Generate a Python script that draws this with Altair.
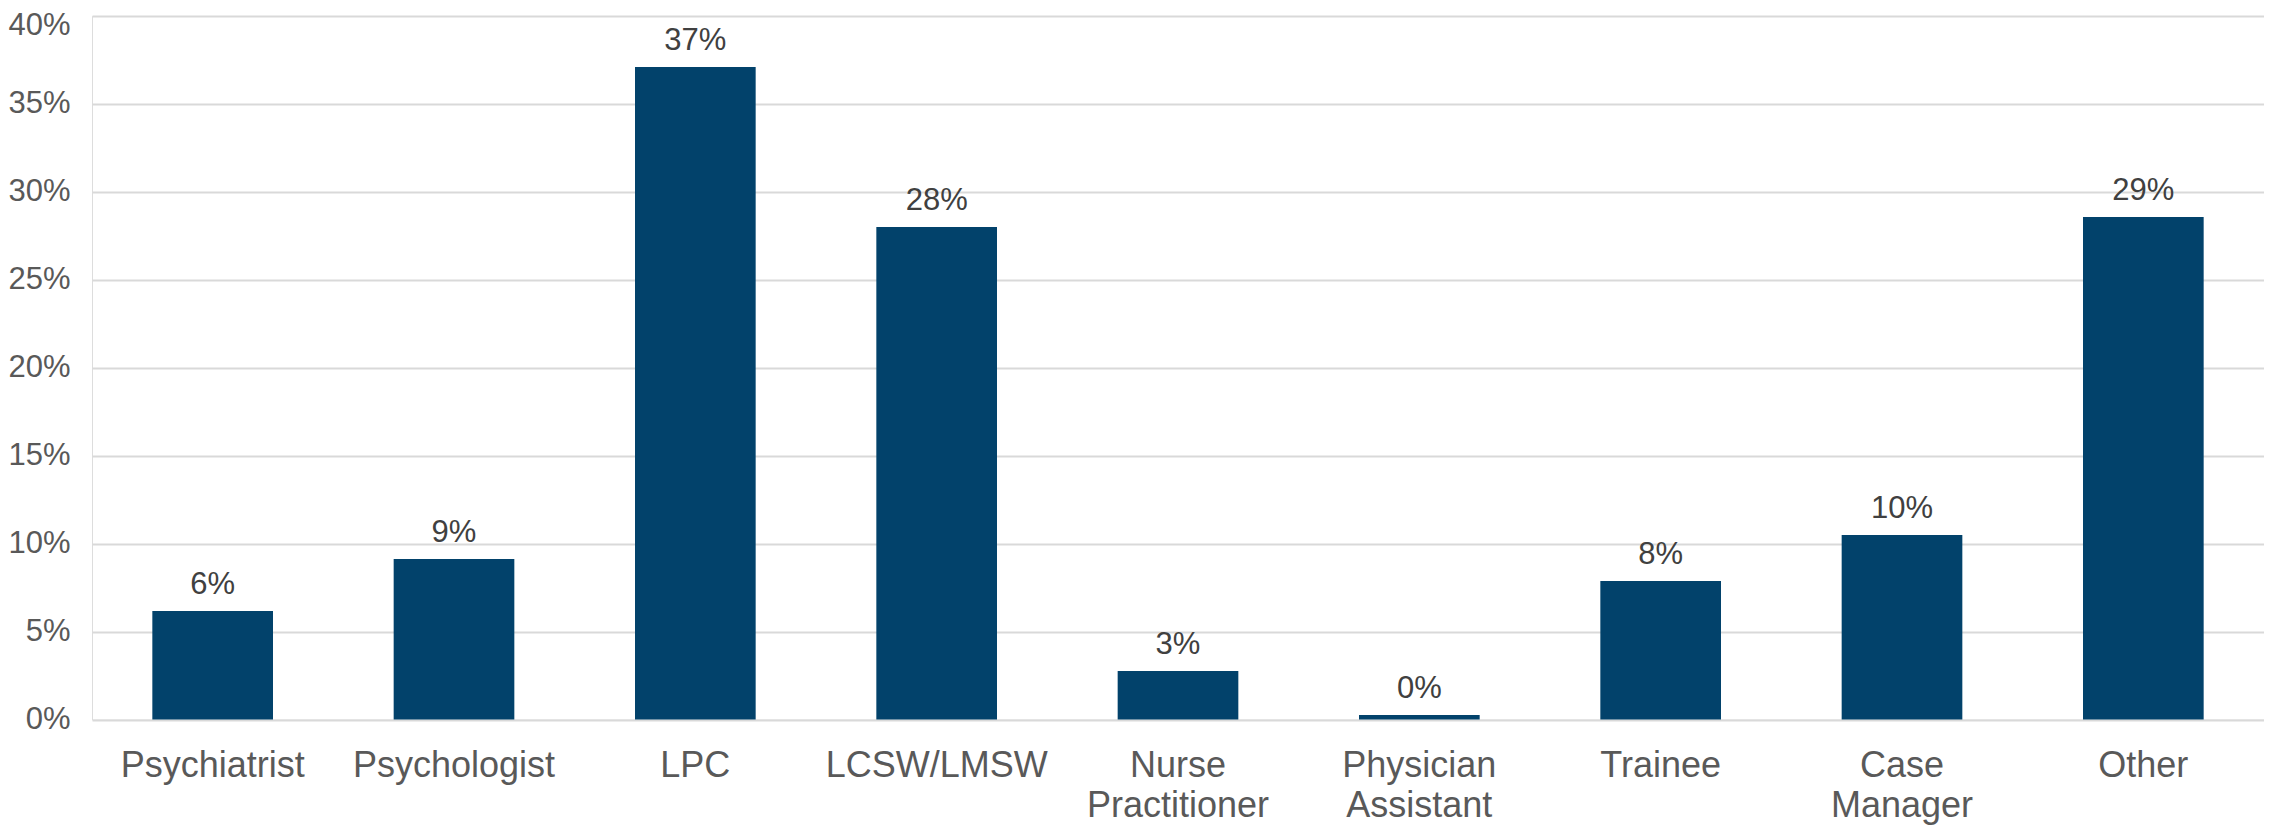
import altair as alt
import pandas as pd

categories = ["Psychiatrist", "Psychologist", "LPC", "LCSW/LMSW", "Nurse|Practitioner",
              "Physician|Assistant", "Trainee", "Case|Manager", "Other"]
values = [6.17, 9.12, 37.1, 28.0, 2.76, 0.26, 7.87, 10.49, 28.57]
labels = ["6%", "9%", "37%", "28%", "3%", "0%", "8%", "10%", "29%"]
y_ticks = [0, 5, 10, 15, 20, 25, 30, 35, 40]

df = pd.DataFrame({"cat": categories, "val": values, "lab": labels})

FONT = "Liberation Sans"
BAR = "#02426B"

x_enc = alt.X(
    "cat:N", sort=categories, title=None,
    scale=alt.Scale(paddingInner=0.5, paddingOuter=0.25),
    axis=alt.Axis(labelAngle=0, ticks=False, domain=False, grid=False,
                  labelFont=FONT, labelFontSize=36, labelColor="#595959",
                  labelPadding=29, labelLineHeight=40, labelLimit=600,
                  labelExpr="split(datum.label, '|')"),
)
y_enc = alt.Y(
    "val:Q", title=None,
    scale=alt.Scale(domain=[0, 40], nice=False, zero=True),
    axis=alt.Axis(values=y_ticks, ticks=False, domain=False, grid=True,
                  gridColor="#D9D9D9", gridWidth=2,
                  labelFont=FONT, labelFontSize=31, labelColor="#595959",
                  labelPadding=22, labelLimit=300,
                  labelOffset={"condition": {"test": "datum.value == 40", "value": 9}, "value": 0},
                  labelExpr="datum.value + '%'"),
)

bars = alt.Chart(df).mark_bar(color=BAR).encode(x=x_enc, y=y_enc)
text = alt.Chart(df).mark_text(
    font=FONT, fontSize=31, color="#404040", baseline="alphabetic", dy=-17
).encode(x=alt.X("cat:N", sort=categories), y="val:Q", text="lab:N")

chart = (bars + text).properties(
    width=2172, height=703.5,
    autosize=alt.AutoSizeParams(type="none"),
    padding={"left": 84, "top": 8, "right": 0, "bottom": 107.5},
).configure_view(stroke=None).configure(background="white")

chart.save("out.html", embed_options={"renderer": "svg", "actions": False})
